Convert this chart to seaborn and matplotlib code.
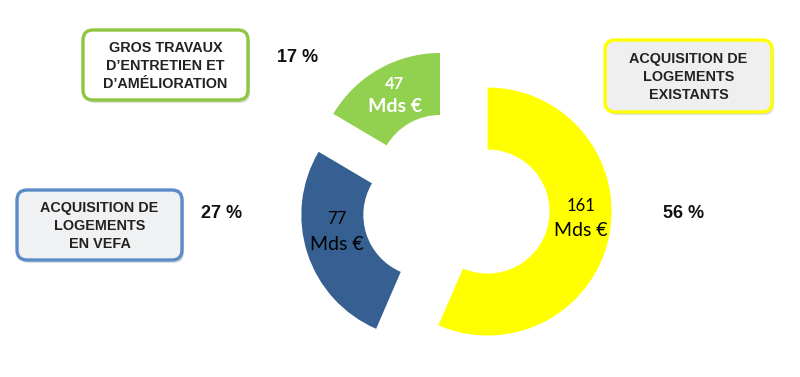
import matplotlib
matplotlib.use("Agg")
import matplotlib.pyplot as plt
import seaborn as sns
from matplotlib.patches import FancyBboxPatch

# data
categories = ["ACQUISITION DE\nLOGEMENTS\nEXISTANTS",
              "ACQUISITION DE\nLOGEMENTS\nEN VEFA",
              "GROS TRAVAUX\nD\u2019ENTRETIEN ET\nD\u2019AM\u00c9LIORATION"]
amounts = [161, 77, 47]          # Mds €
shares = [56, 27, 17]            # %
colors = ["#FFFF00", "#376092", "#92D050"]
box_edges = ["#FFFF00", "#5B8BC9", "#8DC63F"]
box_fills = ["#EFEFEF", "#F0F1F3", "#FFFFFF"]
value_text_colors = ["black", "black", "white"]

sns.set_theme(style="white")
plt.rcParams["font.family"] = ["Liberation Sans", "DejaVu Sans"]

W, H = 800, 377
fig = plt.figure(figsize=(W / 100, H / 100), dpi=100)
fig.patch.set_facecolor("white")

# donut: radius 1 = 124 px, centre at (456, 205) px
cx, cy, rpx = 456, 205, 124
ax = fig.add_axes([0, 0, 1, 1])
ax.pie(amounts, colors=colors, startangle=90, counterclock=False,
       explode=[0.26] * 3, radius=1,
       wedgeprops=dict(width=0.5, linewidth=0))
ax.set_xlim(-cx / rpx, (W - cx) / rpx)
ax.set_ylim(-(H - cy) / rpx, cy / rpx)
ax.set_aspect("equal")
ax.axis("off")

# overlay in pixel coordinates for labels and boxes
ov = fig.add_axes([0, 0, 1, 1], zorder=3)
ov.set_xlim(0, W)
ov.set_ylim(H, 0)
ov.axis("off")
ov.patch.set_alpha(0)

# values inside the wedges
val_pos = [(581, 206, 231), (337, 219, 244), (395, 84, 107)]
for amt, (x, y1, y2), tc, i in zip(amounts, val_pos, value_text_colors, range(3)):
    w = "bold" if i == 2 else "normal"
    ov.text(x, y1, str(amt), ha="center", va="center", fontsize=12,
            color=tc, family=["Lato", "DejaVu Sans"], weight=w)
    ov.text(x, y2, "Mds \u20ac", ha="center", va="center", fontsize=14,
            color=tc, family=["Lato", "DejaVu Sans"], weight=w)

# percentages
pct_pos = [(684, 214), (222, 214), (298, 58)]
for s, (x, y) in zip(shares, pct_pos):
    ov.text(x, y, f"{s} %", ha="center", va="center", fontsize=13,
            weight="bold", color="#111111")

# category boxes (x0, y0, x1, y1)
boxes = [(605, 40, 772, 112), (17, 190, 182, 260), (83, 30, 248, 100)]
for cat, (x0, y0, x1, y1), ec, fc in zip(categories, boxes, box_edges, box_fills):
    shadow = FancyBboxPatch((x0 + 2, y0 + 3), x1 - x0, y1 - y0,
                            boxstyle="round,pad=0,rounding_size=10",
                            fc="#DDDDDD", ec="none", zorder=1)
    ov.add_patch(shadow)
    box = FancyBboxPatch((x0, y0), x1 - x0, y1 - y0,
                         boxstyle="round,pad=0,rounding_size=10",
                         fc=fc, ec=ec, lw=2.4, zorder=2)
    ov.add_patch(box)
    ov.text((x0 + x1) / 2, (y0 + y1) / 2 + 1, cat, ha="center", va="center",
            fontsize=10.4, weight="bold", color="#222222", linespacing=1.4,
            zorder=3)

fig.savefig("out.png", dpi=100)
